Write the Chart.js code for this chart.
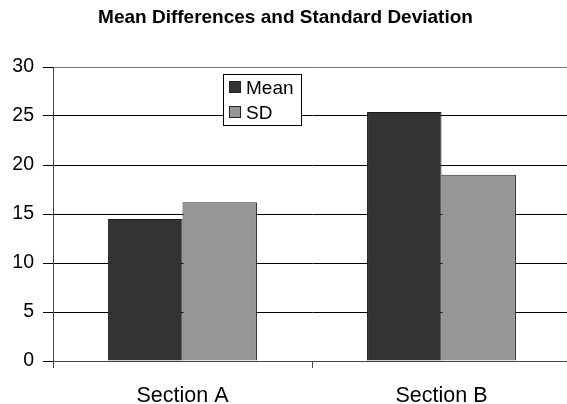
<!DOCTYPE html>
<html><head><meta charset="utf-8">
<script src="https://cdn.jsdelivr.net/npm/chart.js@4"></script>
<style>
html,body{margin:0;padding:0;background:#fff;overflow:hidden;width:567px;height:404px}
#wrap{width:575px;height:404px}
</style></head>
<body><div id="wrap"><canvas id="c" width="575" height="404"></canvas></div>
<script>
const chartTitle = 'Mean Differences and Standard Deviation';
const categories = ['Section A', 'Section B'];
const seriesNames = ['Mean', 'SD'];
const meanValues = [14.5, 25.4];
const sdValues = [16.2, 19.0];
const yTicks = [0, 5, 10, 15, 20, 25, 30];

const FONT = '"Liberation Sans", Arial, sans-serif';

const boxLegend = {
  id: 'boxLegend',
  afterDraw(chart) {
    const ctx = chart.ctx;
    const x0 = 223.5, y0 = 74.5, w = 78, h = 51;
    ctx.save();
    ctx.fillStyle = '#fff';
    ctx.fillRect(x0, y0, w, h);
    ctx.strokeStyle = '#000';
    ctx.lineWidth = 1;
    ctx.strokeRect(x0, y0, w, h);
    chart.data.datasets.forEach((ds, i) => {
      const cy = 88 + i * 25;
      ctx.fillStyle = ds.backgroundColor;
      ctx.fillRect(229.5, cy - 6.5, 11, 11);
      ctx.strokeStyle = '#222';
      ctx.strokeRect(229.5, cy - 6.5, 11, 11);
      ctx.fillStyle = '#000';
      ctx.font = '19px ' + FONT;
      ctx.textBaseline = 'middle';
      ctx.textAlign = 'left';
      ctx.fillText(ds.label, 246, cy + 1);
    });
    ctx.restore();
  }
};

new Chart(document.getElementById('c'), {
  type: 'bar',
  data: {
    labels: categories,
    datasets: [
      { label: seriesNames[0], data: meanValues, backgroundColor: '#333333', borderColor: '#1a1a1a', borderWidth: 1,
        categoryPercentage: 0.575, barPercentage: 1.0 },
      { label: seriesNames[1], data: sdValues, backgroundColor: '#969696', borderColor: '#2a2a2a', borderWidth: 1,
        categoryPercentage: 0.575, barPercentage: 1.0 }
    ]
  },
  options: {
    responsive: false,
    animation: false,
    devicePixelRatio: 1,
    layout: { padding: { left: 0, right: 4, top: 0, bottom: 0 } },
    plugins: {
      legend: { display: false },
      tooltip: { enabled: false },
      title: {
        display: true,
        text: chartTitle,
        color: '#000',
        font: { family: FONT, size: 19, weight: 'bold' },
        padding: { top: 6, bottom: 38.2 }
      }
    },
    scales: {
      x: {
        offset: true,
        grid: { drawOnChartArea: false, drawTicks: true, tickLength: 7, tickColor: '#444', offset: true },
        border: { color: '#444', width: 1 },
        ticks: { color: '#000', font: { family: FONT, size: 21.5 }, padding: 15 },
        afterFit: s => { s.height = 43; }
      },
      y: {
        min: 0,
        max: 30,
        afterBuildTicks: s => { s.ticks = yTicks.map(v => ({ value: v })); },
        grid: {
          color: ctx => (ctx.tick && ctx.tick.value === 30 ? '#777' : '#000'),
          lineWidth: 1, drawTicks: true, tickLength: 10, tickColor: '#000'
        },
        border: { color: '#444', width: 1 },
        ticks: { color: '#000', font: { family: FONT, size: 19.5 }, padding: 9 },
        afterFit: s => { s.width = 53; }
      }
    }
  },
  plugins: [boxLegend]
});
</script>
</body></html>
